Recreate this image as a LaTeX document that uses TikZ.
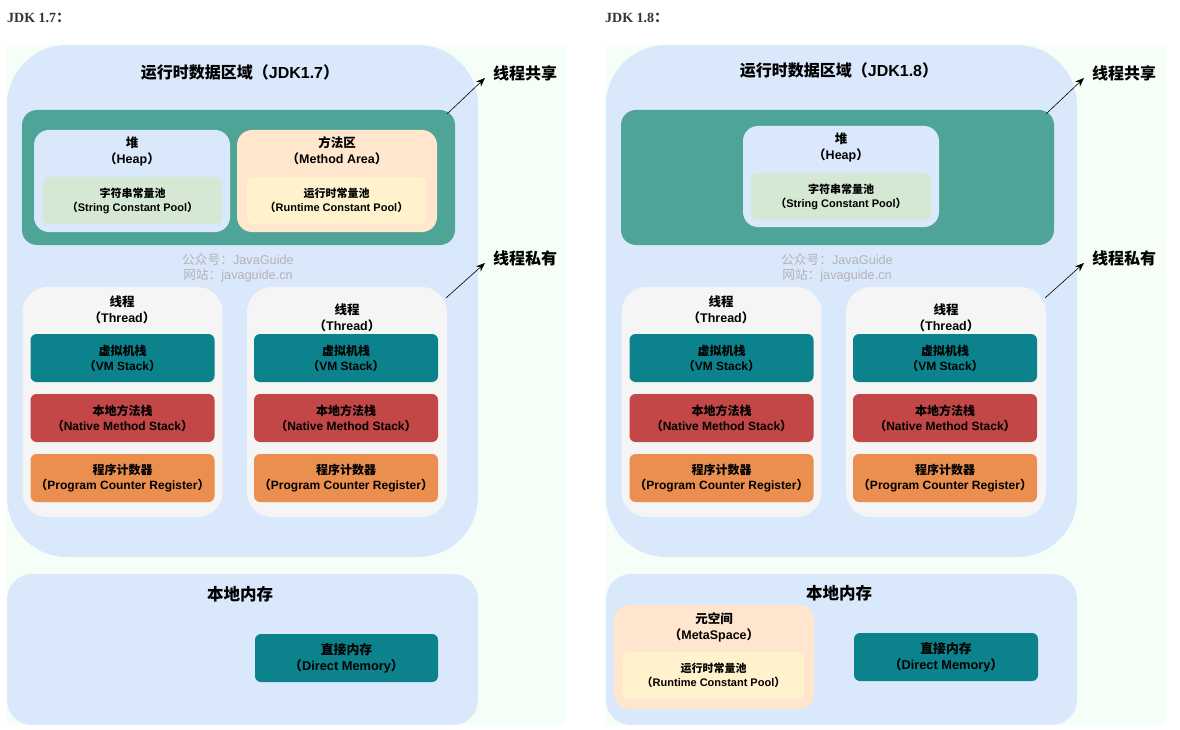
\documentclass[tikz,border=0pt]{standalone}
\usepackage{fontspec}
\setsansfont{Liberation Sans}
\newfontfamily\zhfont{Noto Sans CJK SC}
\newfontfamily\headfont{Liberation Serif}
\usetikzlibrary{arrows.meta}

\definecolor{bggreen}{HTML}{F5FFF7}
\definecolor{areablue}{HTML}{DAE8FC}
\definecolor{sharedgreen}{HTML}{4EA597}
\definecolor{poolgreen}{HTML}{D5E8D4}
\definecolor{methodorange}{HTML}{FFE6CC}
\definecolor{poolyellow}{HTML}{FFF2CC}
\definecolor{threadgray}{HTML}{F5F5F5}
\definecolor{vmteal}{HTML}{0B828C}
\definecolor{nativered}{HTML}{C34747}
\definecolor{pcorange}{HTML}{EA8F4F}
\definecolor{markgray}{HTML}{B3B3B3}
\definecolor{headgray}{HTML}{333333}

\newcommand{\zh}[1]{{\zhfont #1}}
\newcommand{\paren}[1]{\zh{（}#1\zh{）}}

\begin{document}
\begin{tikzpicture}[
    x=1pt, y=-1pt,
    font=\sffamily\bfseries,
    % Estilos de las regiones
    area/.style={fill=areablue, rounded corners=60pt, inner sep=0pt, minimum width=471pt},
    localarea/.style={fill=areablue, rounded corners=25pt, inner sep=0pt, minimum width=471pt, minimum height=151pt},
    sharedbox/.style={fill=sharedgreen, rounded corners=15pt, inner sep=0pt, minimum width=433pt, minimum height=135pt},
    membox/.style={rounded corners=15pt, inner sep=0pt},
    poolbox/.style={rounded corners=6pt, inner sep=0pt, align=center,
        font=\sffamily\bfseries\fontsize{11}{14}\selectfont},
    threadbox/.style={fill=threadgray, rounded corners=25pt, inner sep=0pt, minimum width=200pt, minimum height=230pt},
    stackbox/.style={rounded corners=6pt, inner sep=0pt, minimum width=184pt, minimum height=48pt, align=center,
        font=\sffamily\bfseries\fontsize{12}{15}\selectfont},
    % Estilos de textos
    boxtitle/.style={align=center, font=\sffamily\bfseries\fontsize{12.5}{16}\selectfont},
    areatitle/.style={font=\sffamily\bfseries\fontsize{16}{19}\selectfont},
    sidelbl/.style={anchor=west, inner sep=0pt, font=\sffamily\bfseries\fontsize{16}{19}\selectfont},
    headlbl/.style={anchor=west, inner sep=0pt, text=headgray, font=\headfont\bfseries\fontsize{14}{16}\selectfont},
    watermark/.style={align=center, text=markgray, font=\sffamily\fontsize{12.7}{15.5}\selectfont},
    share/.style={-{Stealth[length=9pt, width=7pt]}, semithick}
]
\useasboundingbox (0,0) rectangle (1180,730);

% ==========================================
% MACROS PARA LAS PARTES REPETIDAS
% ==========================================
% Dos hilos con sus pilas (privados)
\newcommand{\drawthreads}{
    \node[threadbox] (thA) at (122.5,402) {};
    \node[boxtitle] (thAt) at (122,310) {\zh{线程}\\\paren{Thread}};
    \node[stackbox, fill=vmteal] (vmA) at (122.5,358) {\zh{虚拟机栈}\\\paren{VM Stack}};
    \node[stackbox, fill=nativered] (nmA) at (122.5,418) {\zh{本地方法栈}\\\paren{Native Method Stack}};
    \node[stackbox, fill=pcorange] (pcA) at (122.5,478) {\zh{程序计数器}\\\paren{Program Counter Register}};

    \node[threadbox] (thB) at (347,402) {};
    \node[boxtitle] (thBt) at (347,318) {\zh{线程}\\\paren{Thread}};
    \node[stackbox, fill=vmteal] (vmB) at (346,358) {\zh{虚拟机栈}\\\paren{VM Stack}};
    \node[stackbox, fill=nativered] (nmB) at (346,418) {\zh{本地方法栈}\\\paren{Native Method Stack}};
    \node[stackbox, fill=pcorange] (pcB) at (346,478) {\zh{程序计数器}\\\paren{Program Counter Register}};
}
% Marca de agua
\newcommand{\drawmark}{
    \node[watermark] (wm) at (238,268) {\zh{公众号：}JavaGuide\\\zh{网站：}javaguide.cn};
}
% Etiquetas laterales y flechas
\newcommand{\drawsides}{
    \node[sidelbl] (shlbl) at (493,73) {\zh{线程共享}};
    \node[sidelbl] (prlbl) at (493,258) {\zh{线程私有}};
    \draw[share] ([xshift=-8pt, yshift=-4pt]shared.north east) -- ([xshift=-8pt, yshift=-5pt]shlbl.west);
    \draw[share] ([xshift=-1pt, yshift=-11pt]thB.north east) -- ([xshift=-8pt, yshift=-5pt]prlbl.west);
}

% ==========================================
% PANEL 1: JDK 1.7
% ==========================================
\begin{scope}[shift={(0,0)}]
    \node[headlbl] (jdk7) at (7,18) {JDK 1.7\zh{：}};
    \fill[bggreen] (7,45) rectangle (566,725);

    \node[area, minimum height=512pt] (runtime) at (242.5,301) {};
    \node[areatitle] (rtitle) at (240,72) {\zh{运行时数据区域（}JDK1.7\zh{）}};

    % Zona compartida: heap + method area
    \node[sharedbox] (shared) at (238.5,177.5) {};
    \node[membox, fill=areablue, minimum width=196pt, minimum height=102pt] (heap) at (132,181) {};
    \node[boxtitle] (heapt) at (132,151) {\zh{堆}\\\paren{Heap}};
    \node[poolbox, fill=poolgreen, minimum width=179pt, minimum height=47pt] (spool) at (132.5,200.5)
        {\zh{字符串常量池}\\\paren{String Constant Pool}};
    \node[membox, fill=methodorange, minimum width=200pt, minimum height=102pt] (method) at (337,181) {};
    \node[boxtitle] (methodt) at (337,151) {\zh{方法区}\\\paren{Method Area}};
    \node[poolbox, fill=poolyellow, minimum width=179pt, minimum height=47pt] (rpool) at (336.5,200.5)
        {\zh{运行时常量池}\\\paren{Runtime Constant Pool}};

    \drawmark
    \drawthreads
    \drawsides

    % Memoria local
    \node[localarea] (local) at (242.5,649.5) {};
    \node[font=\sffamily\bfseries\fontsize{16.5}{19}\selectfont] (localt) at (240,594) {\zh{本地内存}};
    \node[stackbox, fill=vmteal, minimum width=183pt, font=\sffamily\bfseries\fontsize{12.8}{16}\selectfont] (direct) at (346.5,658)
        {\zh{直接内存}\\\paren{Direct Memory}};
\end{scope}

% ==========================================
% PANEL 2: JDK 1.8
% ==========================================
\begin{scope}[shift={(599,0)}]
    \node[headlbl] (jdk8) at (6,18) {JDK 1.8\zh{：}};
    \fill[bggreen] (6,45) rectangle (566,725);

    \node[area, minimum height=512pt] (runtime) at (242.5,301) {};
    \node[areatitle] (rtitle) at (240,70) {\zh{运行时数据区域（}JDK1.8\zh{）}};

    % Zona compartida: solo el heap
    \node[sharedbox] (shared) at (238.5,177.5) {};
    \node[membox, fill=areablue, minimum width=196pt, minimum height=101pt] (heap) at (242,176.5) {};
    \node[boxtitle] (heapt) at (242,147) {\zh{堆}\\\paren{Heap}};
    \node[poolbox, fill=poolgreen, minimum width=180pt, minimum height=47pt] (spool) at (242,196.5)
        {\zh{字符串常量池}\\\paren{String Constant Pool}};

    \drawmark
    \drawthreads
    \drawsides

    % Memoria local con metaspace
    \node[localarea] (local) at (242.5,649.5) {};
    \node[font=\sffamily\bfseries\fontsize{16.5}{19}\selectfont] (localt) at (240,593) {\zh{本地内存}};
    \node[membox, fill=methodorange, minimum width=200pt, minimum height=104pt] (meta) at (115,657) {};
    \node[boxtitle] (metat) at (115,627) {\zh{元空间}\\\paren{MetaSpace}};
    \node[poolbox, fill=poolyellow, minimum width=181pt, minimum height=47pt] (mpool) at (114.5,675.5)
        {\zh{运行时常量池}\\\paren{Runtime Constant Pool}};
    \node[stackbox, fill=vmteal, font=\sffamily\bfseries\fontsize{12.8}{16}\selectfont] (direct) at (347,657)
        {\zh{直接内存}\\\paren{Direct Memory}};
\end{scope}

\end{tikzpicture}
\end{document}
